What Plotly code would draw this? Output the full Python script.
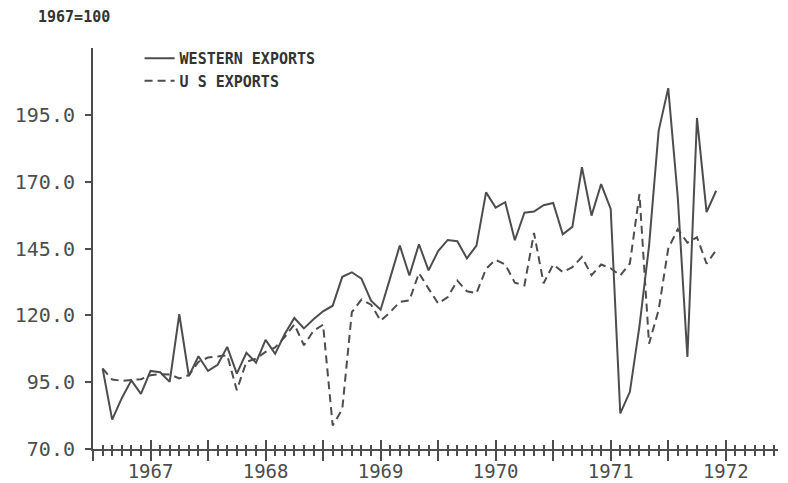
import plotly.graph_objects as go

# month index: 1 = first month of 1967
months = list(range(1, 66))

western_exports = [
    100.1, 81.0, 89.0, 95.7, 90.6, 99.2, 98.7, 95.1, 120.4, 97.3,
    104.7, 99.2, 101.5, 108.2, 98.2, 106.0, 102.3, 110.8, 105.6, 113.0,
    119.0, 115.1, 118.5, 121.5, 123.6, 134.4, 136.1, 133.7, 125.5, 122.1,
    134.0, 146.1, 134.9, 146.6, 136.8, 144.0, 148.2, 147.7, 141.3, 146.1,
    166.0, 160.3, 162.3, 148.1, 158.4, 158.8, 161.2, 162.0, 150.3, 153.1,
    175.4, 157.3, 169.1, 159.8, 83.3, 91.4, 116.0, 146.0, 189.0, 205.0,
    164.0, 104.4, 193.8, 158.6, 166.6,
]

us_exports = [
    100.1, 96.0, 95.5, 95.7, 96.1, 97.6, 98.0, 97.9, 96.4, 97.6,
    102.6, 104.2, 104.7, 105.1, 92.0, 102.6, 103.8, 106.3, 108.0, 111.9,
    116.6, 108.8, 114.2, 116.5, 78.8, 84.9, 121.2, 125.9, 124.0, 118.0,
    121.2, 125.0, 125.6, 135.8, 130.0, 124.4, 126.8, 133.0, 129.0, 128.3,
    137.4, 140.8, 139.0, 132.2, 131.2, 150.8, 132.0, 139.0, 136.2, 138.0,
    141.8, 135.0, 139.0, 137.6, 134.9, 139.4, 165.4, 109.4, 122.0, 145.0,
    152.2, 147.2, 149.2, 139.3, 144.4,
]

years = ["1967", "1968", "1969", "1970", "1971", "1972"]
y_ticks = [70, 95, 120, 145, 170, 195]

# major ticks every half year, year labels sit at mid-year
tick_vals = list(range(0, 72, 6))
tick_text = []
for i in range(len(tick_vals)):
    tick_text.append(years[i // 2] if i % 2 == 1 else "")

ink = "#4d4d4d"
mono = "DejaVu Sans Mono"
x_range = [0, 71.45]

fig = go.Figure()
fig.add_trace(go.Scatter(
    x=months, y=western_exports, mode="lines", name="WESTERN EXPORTS",
    line=dict(color=ink, width=2),
))
fig.add_trace(go.Scatter(
    x=months, y=us_exports, mode="lines", name="U S EXPORTS",
    line=dict(color=ink, width=2, dash="8px,5px"),
))
# empty trace so the overlaid axis (inner half of the crossing ticks) is drawn
fig.add_trace(go.Scatter(x=[None], y=[None], xaxis="x2", showlegend=False,
                         hoverinfo="skip"))

# the page body adds an 8px margin, so the figure is sized 8px smaller
fig.update_layout(
    width=780, height=475,
    margin=dict(l=85, r=10, t=40, b=34),
    paper_bgcolor="white", plot_bgcolor="white",
    font=dict(family=mono, color=ink),
    xaxis=dict(
        range=x_range, tickmode="array", tickvals=tick_vals, ticktext=tick_text,
        ticks="outside", ticklen=10, tickwidth=2, tickcolor=ink,
        minor=dict(dtick=1, tick0=0, ticks="outside", ticklen=5, tickwidth=1.5,
                   tickcolor=ink, showgrid=False),
        showline=True, linewidth=2, linecolor=ink, showgrid=False, zeroline=False,
        tickfont=dict(family=mono, size=19, color=ink), ticklabelstandoff=-6,
        automargin=False,
    ),
    xaxis2=dict(
        range=x_range, overlaying="x", anchor="y", side="bottom",
        tickmode="array", tickvals=tick_vals, showticklabels=False,
        ticks="inside", ticklen=9, tickwidth=2, tickcolor=ink,
        minor=dict(dtick=1, tick0=0, ticks="inside", ticklen=4, tickwidth=1.5,
                   tickcolor=ink, showgrid=False),
        showline=False, showgrid=False, zeroline=False, automargin=False,
    ),
    yaxis=dict(
        range=[70, 220], tickmode="array", tickvals=y_ticks,
        tickformat=".1f", ticks="outside", ticklen=6, tickwidth=2, tickcolor=ink,
        showline=True, linewidth=2, linecolor=ink, showgrid=False, zeroline=False,
        tickfont=dict(family=mono, size=20, color=ink), ticklabelstandoff=6,
        automargin=False,
    ),
    legend=dict(
        x=0.068, y=1.015, xanchor="left", yanchor="top",
        bgcolor="rgba(0,0,0,0)", tracegroupgap=0,
        font=dict(family=mono, size=15, color="#333333", weight="bold"),
    ),
    showlegend=True,
)

fig.add_annotation(
    text="<b>1967=100</b>", xref="paper", yref="paper",
    x=-0.083, y=1.077, xanchor="left", yanchor="middle", showarrow=False,
    font=dict(family=mono, size=15, color="#333333"),
)

fig.write_html("out.html")
